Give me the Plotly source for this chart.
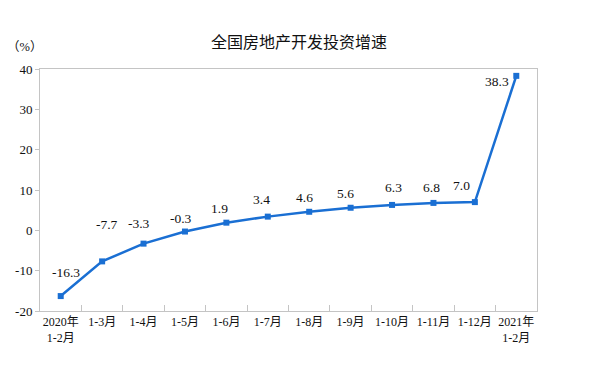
import plotly.graph_objects as go

categories = ["2020年<br>1-2月", "1-3月", "1-4月", "1-5月", "1-6月", "1-7月", "1-8月",
              "1-9月", "1-10月", "1-11月", "1-12月", "2021年<br>1-2月"]
values = [-16.3, -7.7, -3.3, -0.3, 1.9, 3.4, 4.6, 5.6, 6.3, 6.8, 7.0, 38.3]
labels = ["-16.3", "-7.7", "-3.3", "-0.3", "1.9", "3.4", "4.6", "5.6", "6.3", "6.8", "7.0", "38.3"]
y_ticks = [-20, -10, 0, 10, 20, 30, 40]
y_tick_text = ["-20", "-10", "0", "10", "20", "30", "40"]
label_dx = [5, 5, -5, -4, -7, -6, -5, -5, 1, -2, -13, -5]
label_dy = [24, 37, 20, 13, 14, 17, 14, 14, 17, 15, 17, -6]

fig = go.Figure()
fig.add_trace(go.Scatter(
    x=categories, y=values, mode="lines+markers",
    line=dict(color="#1a6fd3", width=2.5),
    marker=dict(symbol="square", size=6, color="#1a6fd3"),
    hoverinfo="skip",
))
for c, v, t, dx, dy in zip(categories, values, labels, label_dx, label_dy):
    fig.add_annotation(x=c, y=v, text=t, showarrow=False, xshift=dx, yshift=dy,
                       xanchor="center" if dy > 0 else "right",
                       font=dict(family="Liberation Serif", size=13.5, color="#111"))

fig.add_annotation(xref="paper", yref="paper", x=-0.032, y=1.055, text="（%）",
                   showarrow=False, xanchor="center", yanchor="bottom",
                   font=dict(family="Liberation Serif, Noto Sans CJK SC", size=12.5, color="#111"))

fig.update_layout(
    width=598, height=375,
    margin=dict(l=40, r=61, t=69, b=64, autoexpand=False),
    paper_bgcolor="white", plot_bgcolor="white",
    showlegend=False,
    title=dict(text="全国房地产开发投资增速", x=0.5, xanchor="center",
               y=0.888, yanchor="middle", yref="container",
               font=dict(family="Noto Sans CJK SC", size=16, color="#111")),
    xaxis=dict(range=[-0.5, 11.5], showline=True, linecolor="#c4c4c4", linewidth=1, mirror=True,
               ticks="inside", tickson="boundaries", ticklen=6, tickcolor="#c4c4c4",
               showgrid=False, tickangle=0, automargin=False,
               tickfont=dict(family="Liberation Serif, Noto Sans CJK SC", size=12, color="#111")),
    yaxis=dict(range=[-20, 40], tickvals=y_ticks, ticktext=y_tick_text,
               showline=True, linecolor="#c4c4c4", linewidth=1,
               mirror=True, ticks="outside", ticklen=4, tickcolor="#c4c4c4",
               showgrid=False, zeroline=False, automargin=False,
               tickfont=dict(family="Liberation Serif", size=13, color="#111")),
)
fig.write_html("out.html", config={"displayModeBar": False},
               post_script="document.body.style.margin='0';")
